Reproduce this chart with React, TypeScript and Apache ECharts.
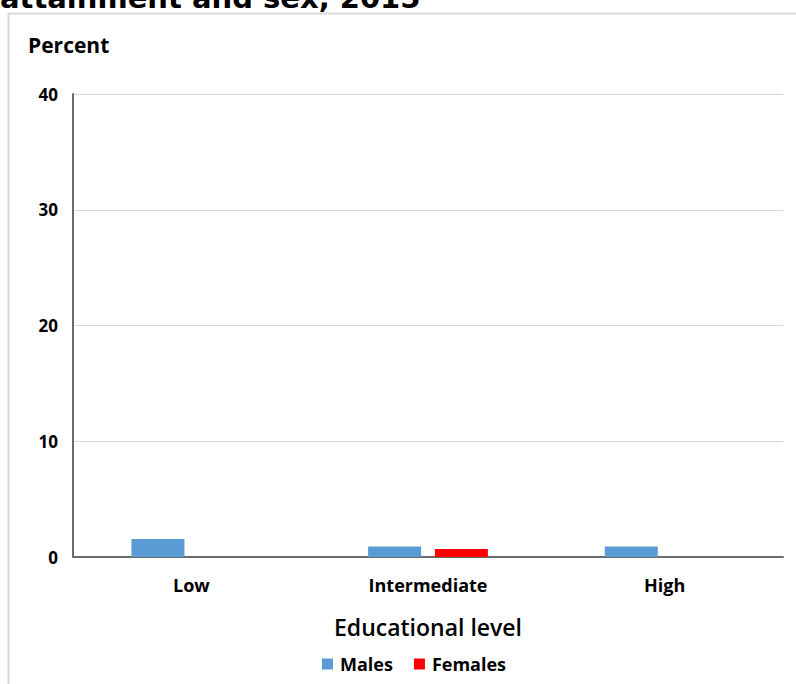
import React, { useEffect, useRef } from "react";
import * as echarts from "echarts";

const categories = ["Low", "Intermediate", "High"];
const males = [1.55, 0.9, 0.9];
const females = [null, 0.7, null];
const yTicks = [0, 10, 20, 30, 40];

const FONT = "'Open Sans', 'Noto Sans', sans-serif";

export default function App() {
  const ref = useRef<HTMLDivElement>(null);
  useEffect(() => {
    document.body.style.margin = "0";
    const chart = echarts.init(ref.current!, null, { renderer: "svg" });
    chart.setOption({
      animation: false,
      backgroundColor: "#fff",
      graphic: [
        {
          type: "rect",
          shape: { x: 8.5, y: 13.5, width: 800, height: 700 },
          style: { fill: "none", stroke: "#d9d9d9", lineWidth: 2 },
          silent: true,
        },
        {
          type: "text",
          x: 0,
          y: 12,
          style: {
            text: "attainment and sex, 2015",
            font: "bold 29px 'DejaVu Sans', Verdana, sans-serif",
            fill: "#000",
            textVerticalAlign: "bottom",
          },
        },
        {
          type: "text",
          x: 28,
          y: 45,
          style: {
            text: "Percent",
            font: `bold 21px ${FONT}`,
            fill: "#000",
            textVerticalAlign: "middle",
          },
        },
      ],
      grid: { left: 73, right: 13, top: 94, bottom: 127, containLabel: false },
      legend: {
        left: 317,
        top: 650,
        itemWidth: 11,
        itemHeight: 11,
        itemGap: 21,
        icon: "rect",
        textStyle: {
          fontFamily: FONT,
          fontWeight: "bold",
          fontSize: 18,
          color: "#000",
          padding: [0, 0, 0, 2],
        },
        data: ["Males", "Females"],
      },
      xAxis: {
        type: "category",
        data: categories,
        axisTick: { show: false },
        axisLine: { lineStyle: { color: "#6b6b6b", width: 2 } },
        axisLabel: { margin: 19, fontFamily: FONT, fontWeight: "bold", fontSize: 18, color: "#000" },
        name: "Educational level",
        nameLocation: "middle",
        nameGap: 58,
        nameTextStyle: { fontFamily: FONT, fontSize: 23, color: "#000", fontWeight: 600 },
      },
      yAxis: {
        type: "value",
        min: yTicks[0],
        max: yTicks[yTicks.length - 1],
        interval: 10,
        axisLine: { show: true, lineStyle: { color: "#6b6b6b", width: 2 } },
        axisTick: { show: false },
        splitLine: { lineStyle: { color: "#d9d9d9", width: 1 } },
        axisLabel: { margin: 15, fontFamily: FONT, fontWeight: "bold", fontSize: 17, color: "#000" },
      },
      series: [
        {
          name: "Males",
          type: "bar",
          data: males,
          barWidth: 53,
          barGap: "26%",
          itemStyle: { color: "#5b9bd5" },
        },
        {
          name: "Females",
          type: "bar",
          data: females,
          barWidth: 53,
          itemStyle: { color: "#ff0000" },
        },
      ],
    });
    return () => chart.dispose();
  }, []);
  return (
    <div
      ref={ref}
      style={{ position: "absolute", left: 0, top: 0, width: 796, height: 684 }}
    />
  );
}
